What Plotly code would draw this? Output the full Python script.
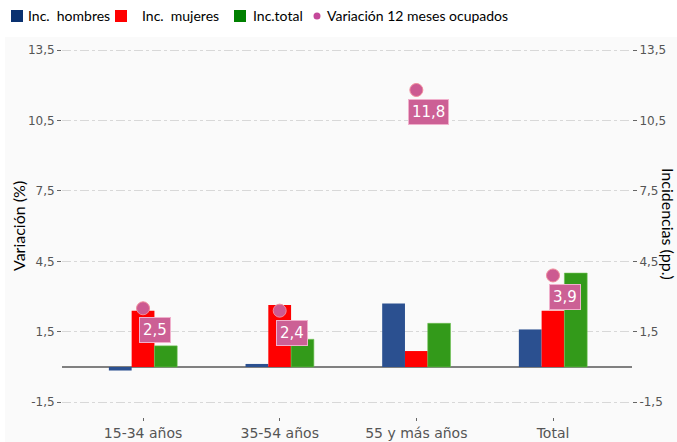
import plotly.graph_objects as go

categories = ["15-34 años", "35-54 años", "55 y más años", "Total"]
inc_hombres = [-0.15, 0.13, 2.71, 1.6]
inc_mujeres = [2.4, 2.64, 0.68, 2.4]
inc_total = [0.9, 1.18, 1.86, 4.0]
variacion = [2.5, 2.4, 11.8, 3.9]
tick_vals = [-1.5, 1.5, 4.5, 7.5, 10.5, 13.5]
tick_text = ["-1,5", "1,5", "4,5", "7,5", "10,5", "13,5"]
legend_names = ["Inc.  hombres", "Inc.  mujeres", "Inc.total", "Variación 12 meses ocupados"]
legend_colors = ["#0a3170", "#ff0000", "#008000", "#c4489a"]

W, H = 677, 442
L, R, T, B = 62, 632, 40, 417
yr = [-2.13, 13.93]
xr = [-0.593, 3.578]

def px_x(p):
    return (p - L) / (R - L)

def px_y(p):
    return (B - p) / (B - T)

TXT_FONT = "Lato, sans-serif"

fig = go.Figure()
fig.add_trace(go.Bar(x=categories, y=inc_hombres, name=legend_names[0],
                     marker=dict(color="#2b5090", line=dict(width=0))))
fig.add_trace(go.Bar(x=categories, y=inc_mujeres, name=legend_names[1],
                     marker=dict(color="#ff0000", line=dict(width=0))))
fig.add_trace(go.Bar(x=categories, y=inc_total, name=legend_names[2],
                     marker=dict(color="#339a1a", line=dict(width=0.6, color="#6cc050"))))
fig.add_trace(go.Scatter(x=categories, y=variacion, mode="markers",
                         name=legend_names[3],
                         marker=dict(color="#cc5a91", size=13,
                                     line=dict(color="#f08a9a", width=1))))
fig.add_trace(go.Scatter(x=categories, y=variacion, yaxis="y2", mode="markers",
                         marker=dict(opacity=0), showlegend=False, hoverinfo="skip"))

for c, v in zip(categories, variacion):
    fig.add_annotation(x=c, y=v, text=f"{v:.1f}".replace(".", ","),
                       showarrow=False, xanchor="center", yanchor="middle",
                       xshift=12, yshift=-22,
                       font=dict(color="white", size=15, family="DejaVu Sans"),
                       bgcolor="#cc6095", bordercolor="#f0b0cc", borderwidth=1,
                       borderpad=3)

# legend drawn at the top (symbol + text)
sym_x = [11, 115, 234, 317]
txt_x = [26, 140, 251, 325]
leg_y = 16
for i, (name, col) in enumerate(zip(legend_names, legend_colors)):
    if i < 3:
        fig.add_shape(type="rect", xref="paper", yref="paper",
                      x0=px_x(sym_x[i]), x1=px_x(sym_x[i] + 12),
                      y0=px_y(leg_y + 6), y1=px_y(leg_y - 6),
                      fillcolor=col, line=dict(width=0))
    else:
        fig.add_shape(type="circle", xref="paper", yref="paper",
                      x0=px_x(sym_x[i] - 3.5), x1=px_x(sym_x[i] + 3.5),
                      y0=px_y(leg_y + 3.5), y1=px_y(leg_y - 3.5),
                      fillcolor=col, line=dict(width=0))
    fig.add_annotation(x=px_x(txt_x[i]), y=px_y(leg_y), xref="paper", yref="paper",
                       xanchor="left", yanchor="middle", text=name, showarrow=False,
                       font=dict(size=14, color="black", family=TXT_FONT))

fig.add_annotation(x=px_x(18), y=px_y(226), xref="paper", yref="paper",
                   xanchor="center", yanchor="middle",
                   text="Variación (%)", textangle=-90, showarrow=False,
                   font=dict(size=16, color="black", family=TXT_FONT))
fig.add_annotation(x=px_x(668), y=px_y(224), xref="paper", yref="paper",
                   xanchor="center", yanchor="middle",
                   text="Incidencias (pp.)", textangle=90, showarrow=False,
                   font=dict(size=16, color="black", family=TXT_FONT))

fig.add_shape(type="rect", xref="paper", yref="paper",
              x0=px_x(5), x1=px_x(W + 5), y0=px_y(37), y1=px_y(H + 5),
              fillcolor="#fafafa", line=dict(width=0), layer="below")

axis_common = dict(range=yr, tickvals=tick_vals, ticktext=tick_text,
                   ticks="outside", ticklen=4, tickcolor="#666666",
                   tickfont=dict(size=12, color="#555555", family="DejaVu Sans"))

fig.update_layout(
    width=W, height=H,
    margin=dict(l=L, r=W - R, t=T, b=H - B, autoexpand=False),
    paper_bgcolor="white", plot_bgcolor="#fafafa",
    barmode="group", bargap=0.5, bargroupgap=0,
    showlegend=False,
    xaxis=dict(range=xr, ticks="outside", ticklen=3, tickcolor="#666666",
               tickfont=dict(size=14, color="#555555", family="DejaVu Sans"),
               showgrid=False, zeroline=False, showline=False),
    yaxis=dict(**axis_common, showgrid=True, gridcolor="#d8d8d8", griddash="dashdot",
               gridwidth=1, zeroline=True, zerolinecolor="#808080", zerolinewidth=2,
               showline=False),
    yaxis2=dict(**axis_common, overlaying="y", side="right", showgrid=False,
                zeroline=False, showline=False),
)

fig.write_html("out.html", config={"displayModeBar": False},
               post_script="document.body.style.margin='0px';")
